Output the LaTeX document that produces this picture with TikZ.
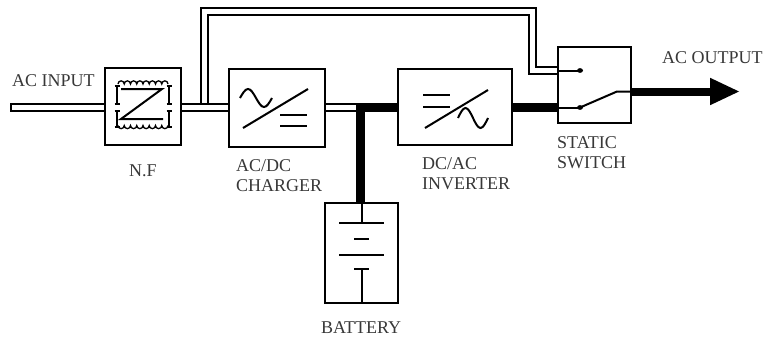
\documentclass[tikz,border=0pt]{standalone}
\usepackage{fontspec}
\setmainfont{Liberation Serif}
\usetikzlibrary{arrows.meta}
\newcommand\lblfont{\fontsize{18}{20}\selectfont}
\begin{document}
\begin{tikzpicture}[x=1pt,y=-1pt, line join=miter,
  box/.style={draw, line width=2.2pt, inner sep=0pt},
  pipe/.style={draw, line width=2pt, double=white, double distance=5pt},
  bus/.style={line width=9pt},
  sym/.style={line width=2pt},
  thinsym/.style={line width=1.3pt},
  lbl/.style={font=\lblfont, text=black!78, inner sep=0pt, align=left}]
\useasboundingbox[fill=white] (0,0) rectangle (767,340);

% boxes
\node[box, minimum width=76pt, minimum height=77pt] (nf) at (143,106.5) {};
\node[box, minimum width=96pt, minimum height=78pt] (chg) at (277,108) {};
\node[box, minimum width=114pt, minimum height=76pt] (inv) at (455,107) {};
\node[box, minimum width=73pt, minimum height=76pt] (sw) at (594.5,85) {};
\node[box, minimum width=73pt, minimum height=100pt] (bat) at (361.5,253) {};

% coordinates
\coordinate (ain) at (10,107.5);
\coordinate (jl) at (356,107.5);
\coordinate (j) at (360.5,107.5);
\coordinate (bp0) at (204,103);
\coordinate (bp1) at (532,11);
\coordinate (cu) at (580,70.5);
\coordinate (cl) at (580,107.5);
\coordinate (bl) at (617,91.5);
\coordinate (tip) at (740,91.5);

% bypass line
\draw[pipe] (bp0) |- (bp1) |- (sw.west |- cu);

% input / rectifier pipes
\draw[pipe] (ain) -- (nf.west |- ain);
\draw[line width=2pt] (ain) ++(1,-4.5) -- ++(0,9);
\draw[pipe] (nf.east |- ain) -- (chg.west |- ain);
\draw[pipe] (chg.east |- ain) -- (jl);

% DC bus
\draw[bus] (jl) -- (inv.west |- j);
\draw[bus] (j) -- (j |- bat.north);
\draw[bus] (inv.east |- j) -- (sw.west |- j);

% output
\draw[line width=8pt, -{Triangle[length=30pt 0 0, width=25pt 0 0]}] (sw.east |- tip) -- (tip);

% static switch internals
\draw[sym] (sw.west |- cu) -- (cu);
\fill (cu) ellipse (3pt and 2.4pt);
\draw[sym] (sw.west |- cl) -- (cl);
\fill (cl) ellipse (3pt and 2.4pt);
\draw[sym] (cl) -- (bl) -- (sw.east |- bl);

% N.F internals
\draw[thinsym] (118,84) \foreach \i in {1,...,8} { arc[start angle=180, end angle=0, radius=3.125pt] };
\draw[thinsym] (118,125.5) \foreach \i in {1,...,8} { arc[start angle=180, end angle=360, radius=3.125pt] };
\foreach \x in {117,169} {
  \foreach \a/\b in {86/104, 111/127} {
    \draw[sym] (\x,\a) -- (\x,\b);
    \draw[thinsym] (\x-2.5,\a) -- (\x+2.5,\a) (\x-2.5,\b) -- (\x+2.5,\b);
  }
}
\draw[sym] (121,89) -- (162,89) -- (121,119) -- (163,119);

% charger internals
\draw[sym] (240,98) sin (248,89) cos (256,98) sin (264,107) cos (272,98);
\draw[sym] (243,128) -- (308,89);
\draw[sym] (280,115) -- (307,115) (280,126) -- (307,126);

% inverter internals
\draw[sym] (423,95) -- (450,95) (423,107) -- (450,107);
\draw[sym] (425,128) -- (488,90);
\draw[sym] (458,118) sin (465.5,108) cos (473,118) sin (480.5,128) cos (488,118);

% battery internals
\draw[sym] (bat.north) -- (361.5,223);
\draw[sym] (339,223) -- (384,223) (354,239) -- (369,239) (339,255) -- (384,255) (354,269) -- (369,269);
\draw[sym] (361.5,269) -- (361.5,302);

% labels
\node[lbl, anchor=north west] (tin) at (12,74) {AC INPUT};
\node[lbl, anchor=north] (tnf) at (143,164.5) {N.F};
\node[lbl, anchor=north west] (tchg) at (236,159.5) {AC/DC\\CHARGER};
\node[lbl, anchor=north west] (tinv) at (422,157) {DC/AC\\INVERTER};
\node[lbl, anchor=north west] (tsw) at (557,136.5) {STATIC\\SWITCH};
\node[lbl, anchor=north west] (tout) at (662,51.5) {AC OUTPUT};
\node[lbl, anchor=north] (tbat) at (361,321.5) {BATTERY};
\end{tikzpicture}
\end{document}
